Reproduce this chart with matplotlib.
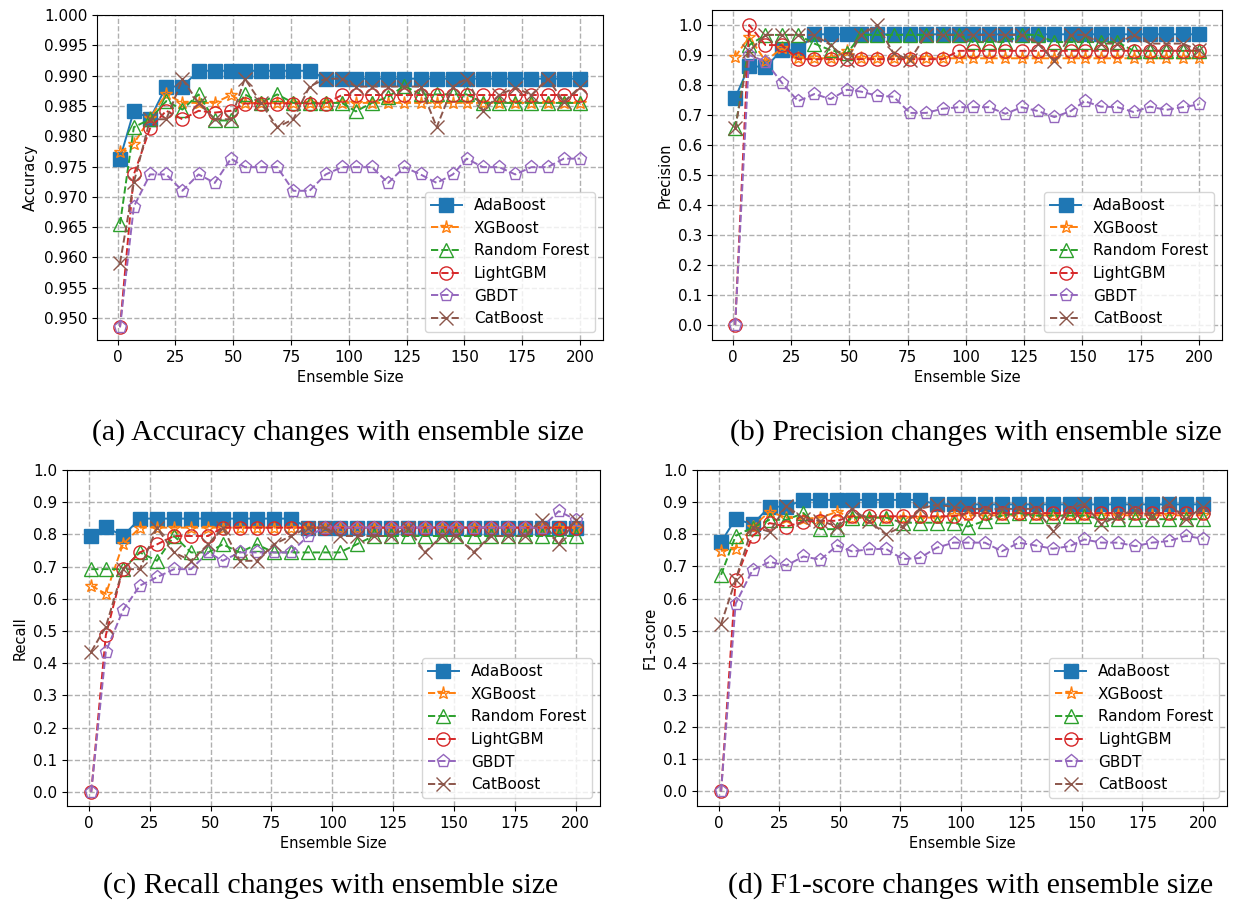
import numpy as np
import matplotlib
matplotlib.use('Agg')
import matplotlib.pyplot as plt
from matplotlib.ticker import MultipleLocator

# размер ансамбля
sizes = [1, 7, 14, 21, 28, 35, 42, 49, 55, 62, 69, 76, 83, 90, 97,
         103, 110, 117, 124, 131, 138, 145, 151, 158, 165, 172, 179, 186, 193, 200]

models = ['AdaBoost', 'XGBoost', 'Random Forest', 'LightGBM', 'GBDT', 'CatBoost']

# Accuracy
acc_ada = [0.9763, 0.9842, 0.9829, 0.9882, 0.9882] + [0.9908] * 8 + [0.9895] * 17
acc_xgb = [0.9774, 0.9788, 0.9830, 0.9870, 0.9855, 0.9855, 0.9855, 0.9868] + [0.9855] * 22
acc_rf = [0.9655, 0.9815, 0.9828, 0.9858, 0.9844, 0.9869, 0.9826, 0.9826, 0.9869, 0.9855,
          0.9869, 0.9855, 0.9855, 0.9855, 0.9855, 0.9841, 0.9855, 0.9865, 0.9883, 0.9869,
          0.9869, 0.9869, 0.9869, 0.9855, 0.9855, 0.9855, 0.9855, 0.9855, 0.9855, 0.9855]
acc_lgbm = [0.9485, 0.9737, 0.9813, 0.9842, 0.9828, 0.9842, 0.9839, 0.9842] + [0.9854] * 6 + [0.9868] * 16
acc_gbdt = [0.9485, 0.9684, 0.9737, 0.9737, 0.9710, 0.9737, 0.9723, 0.9763, 0.9749, 0.9749,
            0.9749, 0.9710, 0.9710, 0.9737, 0.9749, 0.9749, 0.9749, 0.9723, 0.9749, 0.9737,
            0.9723, 0.9737, 0.9763, 0.9749, 0.9749, 0.9737, 0.9749, 0.9749, 0.9763, 0.9763]
acc_cat = [0.9591, 0.9724, 0.9828, 0.9828, 0.9894, 0.9855, 0.9828, 0.9828, 0.9895, 0.9855,
           0.9815, 0.9828, 0.9882, 0.9895, 0.9895, 0.9882, 0.9882, 0.9882, 0.9882, 0.9882,
           0.9815, 0.9882, 0.9895, 0.9842, 0.9868, 0.9880, 0.9868, 0.9895, 0.9857, 0.9881]

# Precision
prec_ada = [0.757, 0.864, 0.859, 0.916, 0.916] + [0.969] * 25
prec_xgb = [0.894, 0.960, 0.880, 0.922, 0.889, 0.889, 0.889, 0.913] + [0.889] * 22
prec_rf = [0.655, 0.933, 0.967, 0.967, 0.967, 0.938, 0.916, 0.905, 0.967, 0.967,
           0.967, 0.967, 0.967, 0.967, 0.967, 0.943, 0.943, 0.943, 0.967, 0.967,
           0.943, 0.943, 0.943, 0.943, 0.943, 0.914, 0.914, 0.914, 0.914, 0.914]
prec_lgbm = [0.0, 1.0, 0.933, 0.933] + [0.886] * 10 + [0.914] * 16
prec_gbdt = [0.0, 0.900, 0.878, 0.808, 0.746, 0.770, 0.753, 0.784, 0.778, 0.764,
             0.761, 0.707, 0.707, 0.721, 0.726, 0.726, 0.726, 0.704, 0.726, 0.713,
             0.693, 0.713, 0.746, 0.728, 0.726, 0.710, 0.728, 0.717, 0.726, 0.735]
prec_cat = [0.655, 0.913, 0.967, 0.967, 0.967, 0.967, 0.933, 0.884, 0.967, 1.0,
            0.905, 0.884, 0.967, 0.967, 0.967, 0.967, 0.967, 0.967, 0.967, 0.938,
            0.880, 0.967, 0.967, 0.938, 0.938, 0.967, 0.938, 0.938, 0.938, 0.916]

# Recall
rec_ada = [0.795, 0.823, 0.795] + [0.849] * 10 + [0.821] * 17
rec_xgb = [0.641, 0.615, 0.769] + [0.821] * 27
rec_rf = [0.692, 0.692, 0.692, 0.744, 0.718, 0.795, 0.744, 0.744, 0.769, 0.744,
          0.769, 0.744, 0.744, 0.744, 0.744, 0.744, 0.769] + [0.795] * 13
rec_lgbm = [0.0, 0.487, 0.692, 0.744, 0.769, 0.795, 0.795, 0.795] + [0.821] * 22
rec_gbdt = [0.0, 0.436, 0.564, 0.641, 0.667, 0.692, 0.692, 0.744, 0.718, 0.744,
            0.744, 0.744, 0.744, 0.795] + [0.821] * 14 + [0.872, 0.846]
rec_cat = [0.436, 0.513, 0.692, 0.692, 0.821, 0.744, 0.718, 0.769, 0.821, 0.718,
           0.718, 0.769, 0.795, 0.821, 0.821, 0.795, 0.795, 0.795, 0.795, 0.821,
           0.744, 0.795, 0.795, 0.744, 0.795, 0.795, 0.795, 0.846, 0.769, 0.846]

# F1-score
f1_ada = [0.776, 0.848, 0.831, 0.886, 0.886] + [0.907] * 8 + [0.893] * 17
f1_xgb = [0.748, 0.755, 0.824, 0.870, 0.852, 0.848, 0.852, 0.870] + [0.852] * 6 + [0.859] * 16
f1_rf = [0.674, 0.795, 0.821, 0.845, 0.845, 0.866, 0.816, 0.816, 0.852, 0.852,
         0.852, 0.836, 0.836, 0.836, 0.836, 0.824, 0.842, 0.858, 0.866, 0.858,
         0.858, 0.858, 0.858, 0.847, 0.847, 0.847, 0.847, 0.847, 0.847, 0.847]
f1_lgbm = [0.0, 0.658, 0.795, 0.835, 0.824, 0.839, 0.842, 0.842] + [0.856] * 7 + [0.866] * 15
f1_gbdt = [0.0, 0.584, 0.689, 0.714, 0.703, 0.731, 0.721, 0.765, 0.747, 0.753,
           0.755, 0.723, 0.726, 0.758, 0.774, 0.774, 0.774, 0.747, 0.774, 0.765,
           0.755, 0.763, 0.784, 0.774, 0.774, 0.763, 0.774, 0.779, 0.795, 0.786]
f1_cat = [0.521, 0.658, 0.824, 0.808, 0.889, 0.848, 0.842, 0.824, 0.879, 0.842,
          0.800, 0.824, 0.879, 0.892, 0.885, 0.879, 0.879, 0.879, 0.879, 0.879,
          0.811, 0.879, 0.895, 0.831, 0.858, 0.876, 0.856, 0.898, 0.847, 0.885]

styles = [
    dict(marker='s', linestyle='-', color='C0'),
    dict(marker='*', linestyle='--', color='C1', markerfacecolor='none'),
    dict(marker='^', linestyle='--', color='C2', markerfacecolor='none'),
    dict(marker='o', linestyle='--', color='C3', markerfacecolor='none'),
    dict(marker='p', linestyle='--', color='C4', markerfacecolor='none'),
    dict(marker='x', linestyle='--', color='C5'),
]

panels = [
    ('Accuracy', [acc_ada, acc_xgb, acc_rf, acc_lgbm, acc_gbdt, acc_cat],
     [97, 15, 603, 340], '(a) Accuracy changes with ensemble size', (338, 440)),
    ('Precision', [prec_ada, prec_xgb, prec_rf, prec_lgbm, prec_gbdt, prec_cat],
     [712, 10, 1222, 340], '(b) Precision changes with ensemble size', (976, 440)),
    ('Recall', [rec_ada, rec_xgb, rec_rf, rec_lgbm, rec_gbdt, rec_cat],
     [67, 470, 600, 806], '(c) Recall changes with ensemble size', (331, 893)),
    ('F1-score', [f1_ada, f1_xgb, f1_rf, f1_lgbm, f1_gbdt, f1_cat],
     [697, 470, 1227, 806], '(d) F1-score changes with ensemble size', (971, 893)),
]

W, H = 1233, 905
fig = plt.figure(figsize=(W / 100, H / 100), dpi=100)

for name, series, box, caption, cap_pos in panels:
    l, t, r, b = box
    ax = fig.add_axes([l / W, 1 - b / H, (r - l) / W, (b - t) / H])
    for label, vals, st in zip(models, series, styles):
        ax.plot(sizes, vals, label=label, markersize=9.5, linewidth=1.4, **st)
    if name == 'Accuracy':
        ax.set_ylim(top=1.0)
        ax.yaxis.set_major_locator(MultipleLocator(0.005))
        ax.yaxis.set_major_formatter(plt.FormatStrFormatter('%.3f'))
    elif name == 'Precision':
        ax.yaxis.set_major_locator(MultipleLocator(0.1))
    else:
        ax.set_ylim(top=1.0)
        ax.yaxis.set_major_locator(MultipleLocator(0.1))
    ax.xaxis.set_major_locator(MultipleLocator(25))
    ax.set_xlabel('Ensemble Size', fontsize=10.5)
    ax.set_ylabel(name, fontsize=10.5)
    ax.tick_params(labelsize=11)
    ax.grid(True, linestyle='--', color='#b0b0b0', linewidth=1.0)
    ax.legend(loc='lower right', fontsize=11)
    fig.text(cap_pos[0] / W, 1 - cap_pos[1] / H, caption, ha='center', va='baseline',
             fontsize=21.5, family='Liberation Serif')

plt.savefig('out.png', dpi=100)
